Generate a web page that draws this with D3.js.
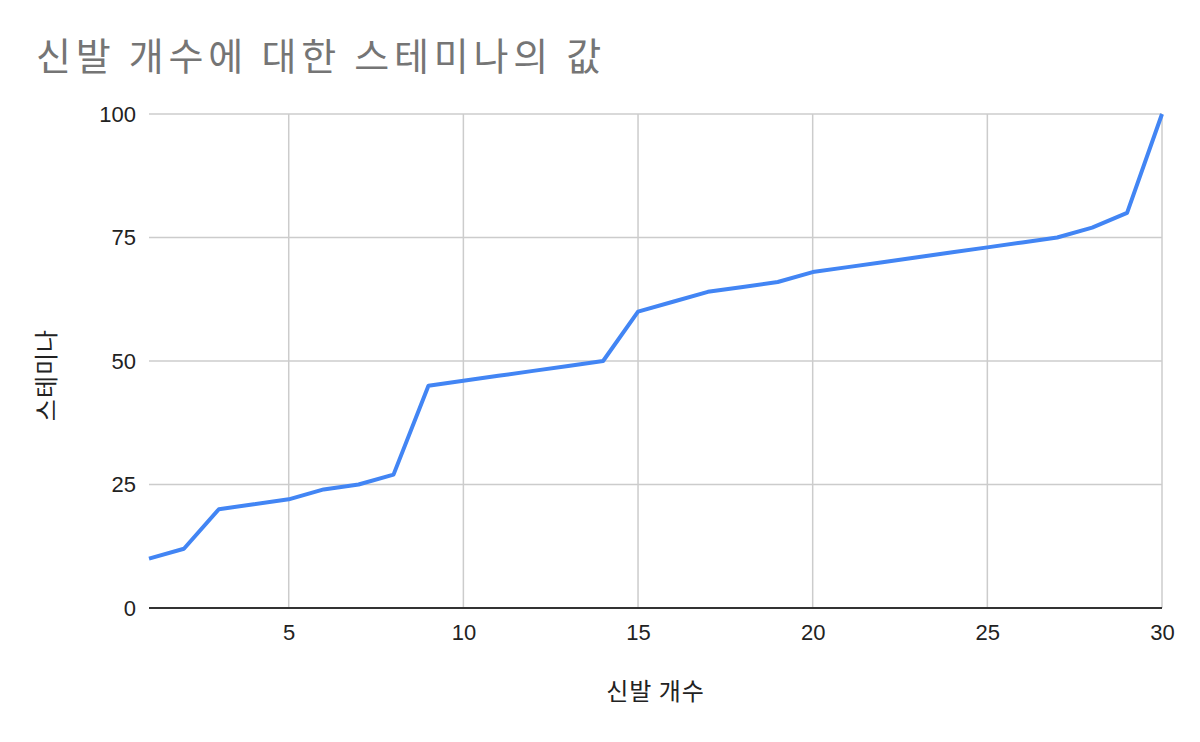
<!DOCTYPE html>
<html><head><meta charset="utf-8">
<script src="https://cdn.jsdelivr.net/npm/d3@7"></script>
<style>body{margin:0;background:#fff}svg{display:block}</style>
</head><body>
<script>
const shoes = [1,2,3,4,5,6,7,8,9,10,11,12,13,14,15,16,17,18,19,20,21,22,23,24,25,26,27,28,29,30];
const stamina = [10,12,20,21,22,24,25,27,45,46,47,48,49,50,60,62,64,65,66,68,69,70,71,72,73,74,75,77,80,100];
const xTicks = [5,10,15,20,25,30];
const yTicks = [0,25,50,75,100];
const title = "신발 개수에 대한 스테미나의 값";
const xTitle = "신발 개수";
const yTitle = "스테미나";

const W=1200,H=742;
const svg=d3.select("body").append("svg").attr("width",W).attr("height",H);
const x=d3.scaleLinear().domain([1,30]).range([149,1162]);
const y=d3.scaleLinear().domain([0,100]).range([608,114]);
const font="'Liberation Sans', Arial, 'Noto Sans CJK KR', sans-serif";
const kfont="'Noto Sans CJK KR', sans-serif";

svg.append("text").attr("x",36).attr("y",70).text(title)
  .attr("font-family",kfont).attr("font-size",38).attr("letter-spacing",4.8).attr("fill","#757575");

svg.append("g").selectAll("line").data(yTicks.filter(d=>d>0)).join("line")
  .attr("x1",x(1)).attr("x2",x(30)).attr("y1",d=>y(d)).attr("y2",d=>y(d))
  .attr("stroke","#cccccc").attr("stroke-width",1.5);
svg.append("g").selectAll("line").data(xTicks).join("line")
  .attr("x1",d=>x(d)).attr("x2",d=>x(d)).attr("y1",y(0)).attr("y2",y(100))
  .attr("stroke","#cccccc").attr("stroke-width",1.5);

const xa=svg.append("g").attr("transform",`translate(0,${y(0)})`)
  .call(d3.axisBottom(x).tickValues(xTicks).tickSize(0).tickPadding(16));
xa.select(".domain").remove();
xa.selectAll("text").attr("font-family",font).attr("font-size",22).attr("fill","#222");
const ya=svg.append("g").attr("transform",`translate(${x(1)},0)`)
  .call(d3.axisLeft(y).tickValues(yTicks).tickSize(0).tickPadding(13));
ya.select(".domain").remove();
ya.selectAll("text").attr("font-family",font).attr("font-size",22).attr("fill","#222");

svg.append("line").attr("x1",x(1)).attr("x2",x(30)).attr("y1",y(0)).attr("y2",y(0))
  .attr("stroke","#333").attr("stroke-width",2);

svg.append("path").datum(shoes.map((s,i)=>[s,stamina[i]]))
  .attr("d",d3.line().x(d=>x(d[0])).y(d=>y(d[1])))
  .attr("fill","none").attr("stroke","#4285f4").attr("stroke-width",4).attr("stroke-linejoin","round");

svg.append("text").attr("x",(x(1)+x(30))/2).attr("y",700).attr("text-anchor","middle")
  .text(xTitle).attr("font-family",kfont).attr("font-size",24).attr("letter-spacing",1).attr("fill","#222");
svg.append("text").attr("transform",`translate(55,${y(50)+14}) rotate(-90)`).attr("text-anchor","middle")
  .text(yTitle).attr("font-family",kfont).attr("font-size",24).attr("letter-spacing",1).attr("fill","#222");
</script>
</body></html>
